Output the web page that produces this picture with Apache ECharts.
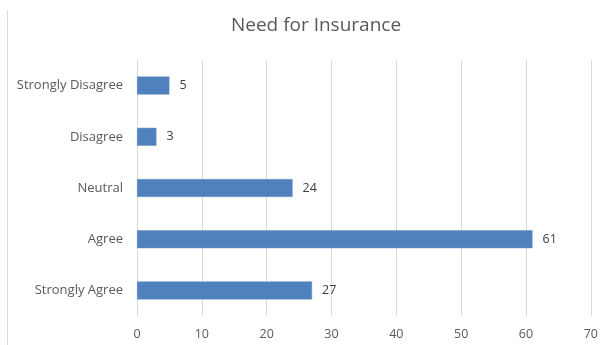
<!DOCTYPE html>
<html><head><meta charset="utf-8">
<script src="https://cdn.jsdelivr.net/npm/echarts@6/dist/echarts.min.js"></script>
<style>html,body{margin:0;padding:0;background:#fff}#c{width:601px;height:345px}</style>
</head><body><div id="c"></div>
<script>
const categories = ["Strongly Agree", "Agree", "Neutral", "Disagree", "Strongly Disagree"];
const values = [27, 61, 24, 3, 5];
const xTicks = [0, 10, 20, 30, 40, 50, 60, 70];

const chart = echarts.init(document.getElementById('c'), null, {renderer: 'canvas'});
chart.setOption({
  animation: false,
  backgroundColor: '#fff',
  title: {
    text: 'Need for Insurance', left: 311, top: 11, textAlign: 'center',
    textStyle: {fontFamily: 'Open Sans', fontSize: 19, fontWeight: 'normal', color: '#595959'}
  },
  graphic: [{type: 'line', shape: {x1: 7.5, y1: 10, x2: 7.5, y2: 345}, style: {stroke: '#d9d9d9', lineWidth: 1}}],
  grid: {left: 137, right: 8, top: 60, bottom: 29, containLabel: false},
  xAxis: {
    type: 'value', min: 0, max: 70, interval: 10,
    axisLine: {show: false}, axisTick: {show: false},
    splitLine: {show: true, lineStyle: {color: '#d9d9d9', width: 1}},
    axisLabel: {color: '#595959', fontFamily: 'Open Sans', fontSize: 12.5, margin: 12,
      formatter: v => xTicks.includes(v) ? String(v) : ''}
  },
  yAxis: {
    type: 'category', data: categories,
    axisLine: {show: false}, axisTick: {show: false},
    axisLabel: {color: '#595959', fontFamily: 'Open Sans', fontSize: 13, margin: 14}
  },
  series: [{
    type: 'bar', data: values, barWidth: 18,
    itemStyle: {color: '#4f81bd', borderColor: '#6d95c9', borderWidth: 0.5},
    label: {show: true, position: 'right', distance: 10, color: '#404040', fontFamily: 'Open Sans', fontSize: 12.5}
  }]
});
</script></body></html>
